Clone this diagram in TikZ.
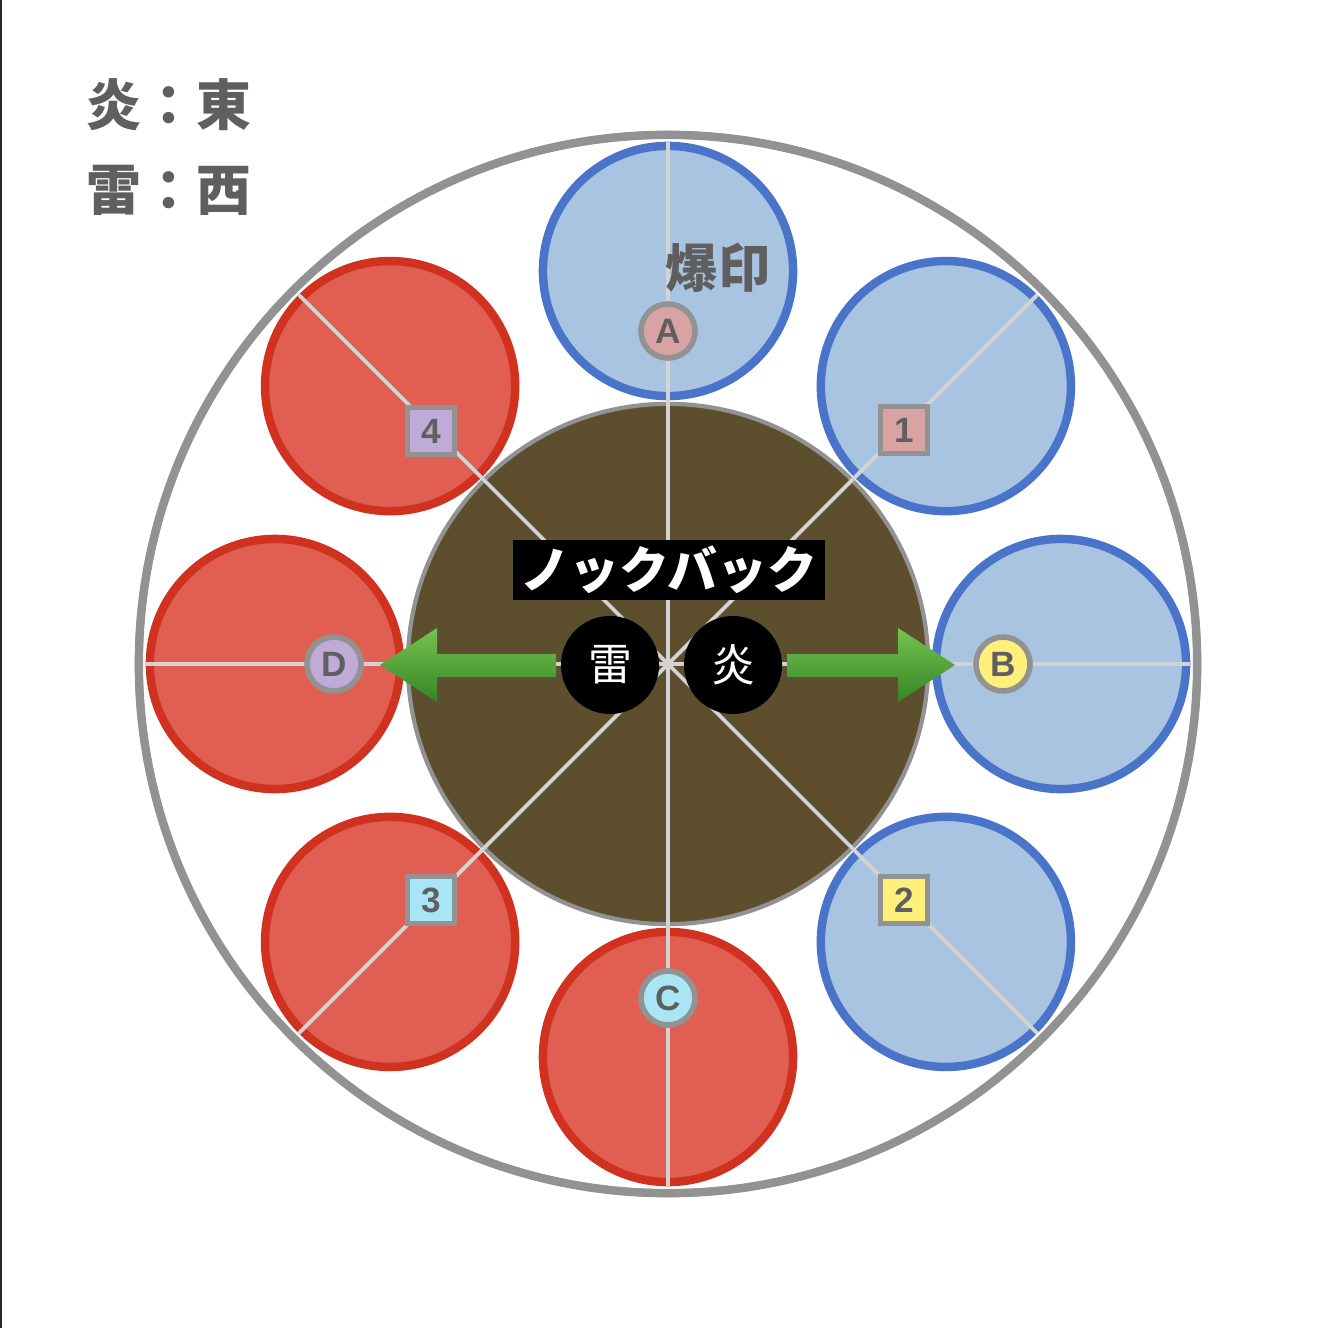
\documentclass[tikz,border=0pt]{standalone}
\usepackage{fontspec}
\newfontfamily\cjk{Noto Sans CJK JP}
\newfontfamily\latin{Liberation Sans}
\usetikzlibrary{calc}

\definecolor{zoneblue}{HTML}{A9C4E1}
\definecolor{zonebluerim}{HTML}{4A74C9}
\definecolor{zonered}{HTML}{E05F52}
\definecolor{zoneredrim}{HTML}{D0321F}
\definecolor{arena}{HTML}{5D4E2D}
\definecolor{rim}{HTML}{929292}
\definecolor{spoke}{HTML}{D3D3D3}
\definecolor{txtgray}{HTML}{5F5F5F}
\definecolor{mkpink}{HTML}{D9A3A3}
\definecolor{mkyellow}{HTML}{FFF07C}
\definecolor{mkcyan}{HTML}{A8E6F6}
\definecolor{mkpurple}{HTML}{C0AAD8}
\definecolor{pushlight}{HTML}{74C450}
\definecolor{pushdark}{HTML}{378426}

\tikzset{
  zone/.style={circle, inner sep=0pt, minimum size=2.5cm, line width=2.4pt},
  bluezone/.style={zone, draw=zonebluerim, fill=zoneblue},
  redzone/.style={zone, draw=zoneredrim, fill=zonered},
  waymark/.style={circle, inner sep=0pt, minimum size=0.54cm, draw=rim, line width=1.6pt,
    text=txtgray, font=\latin\bfseries\fontsize{10}{10}\selectfont},
  wayplate/.style={rectangle, inner sep=0pt, minimum size=0.47cm, draw=rim, line width=1.6pt,
    text=txtgray, font=\latin\bfseries\fontsize{10}{10}\selectfont},
  element/.style={circle, inner sep=0pt, minimum size=0.98cm, fill=black, text=white,
    font=\cjk\fontsize{12.5}{12.5}\selectfont},
  spokeline/.style={draw=spoke, line width=1.1pt}
}

\begin{document}
\begin{tikzpicture}[x=0.01cm, y=-0.01cm]
  \useasboundingbox (0,0) rectangle (1334,1328);
  \fill[white] (0,0) rectangle (1334,1328);
  \draw[line width=0.6pt, black!85] (1,0) -- (1,1328);

  % arena
  \coordinate (o) at (668,664);
  \node[circle, inner sep=0pt, minimum size=10.58cm, draw=rim, line width=2.3pt] (outer) at (o) {};
  \foreach \n/\a/\s in {A/90/bluezone, 1/45/bluezone, B/0/bluezone, 2/-45/bluezone,
                        C/-90/redzone, 3/-135/redzone, D/180/redzone, 4/135/redzone} {
    \node[\s] (z\n) at ({668+393*cos(\a)},{664-393*sin(\a)}) {};
  }
  \node[circle, inner sep=0pt, minimum size=5.2cm, fill=arena, draw=rim, line width=1.2pt] (boss) at (o) {};
  \draw[rim, line width=2.3pt] (o) circle (529);

  % spokes
  \foreach \n/\a in {A/90, 1/45, B/0, 2/-45, C/-90, 3/-135, D/180, 4/135} {
    \draw[spokeline] (o) -- (z\n.\a);
  }

  % waymarks
  \node[waymark, fill=mkpink] (mA) at (668,331) {A};
  \node[waymark, fill=mkyellow] (mB) at (1003,664) {B};
  \node[waymark, fill=mkcyan] (mC) at (668,998) {C};
  \node[waymark, fill=mkpurple] (mD) at (334,664) {D};
  \node[wayplate, fill=mkpink] (m1) at (904,430) {1};
  \node[wayplate, fill=mkyellow] (m2) at (904,900) {2};
  \node[wayplate, fill=mkcyan] (m3) at (431,900) {3};
  \node[wayplate, fill=mkpurple] (m4) at (431,431) {4};

  \node[text=txtgray, font=\cjk\bfseries\fontsize{14.8}{14.8}\selectfont] (mark) at (718,268) {爆印};

  % knockback
  \node[fill=black, text=white, inner sep=0pt, minimum width=3.12cm, minimum height=0.59cm,
    font=\cjk\bfseries\fontsize{14.2}{14.2}\selectfont] (kb) at (669,570) {ノックバック};
  \node[element] (thunder) at (610,665) {雷};
  \node[element] (fire) at (733,665) {炎};
  \shade[top color=pushlight, bottom color=pushdark]
    (556,654) -- (437,654) -- (437,628) -- (380,665) -- (437,702) -- (437,677) -- (556,677) -- cycle;
  \shade[top color=pushlight, bottom color=pushdark]
    (787,654) -- (898,654) -- (898,628) -- (955,665) -- (898,702) -- (898,677) -- (787,677) -- cycle;

  % legend
  \node[anchor=west, text=txtgray, font=\cjk\bfseries\fontsize{15.6}{15.6}\selectfont] (east) at (74,105) {炎：東};
  \node[anchor=west, text=txtgray, font=\cjk\bfseries\fontsize{15.6}{15.6}\selectfont] (west) at (74,190) {雷：西};
\end{tikzpicture}
\end{document}
